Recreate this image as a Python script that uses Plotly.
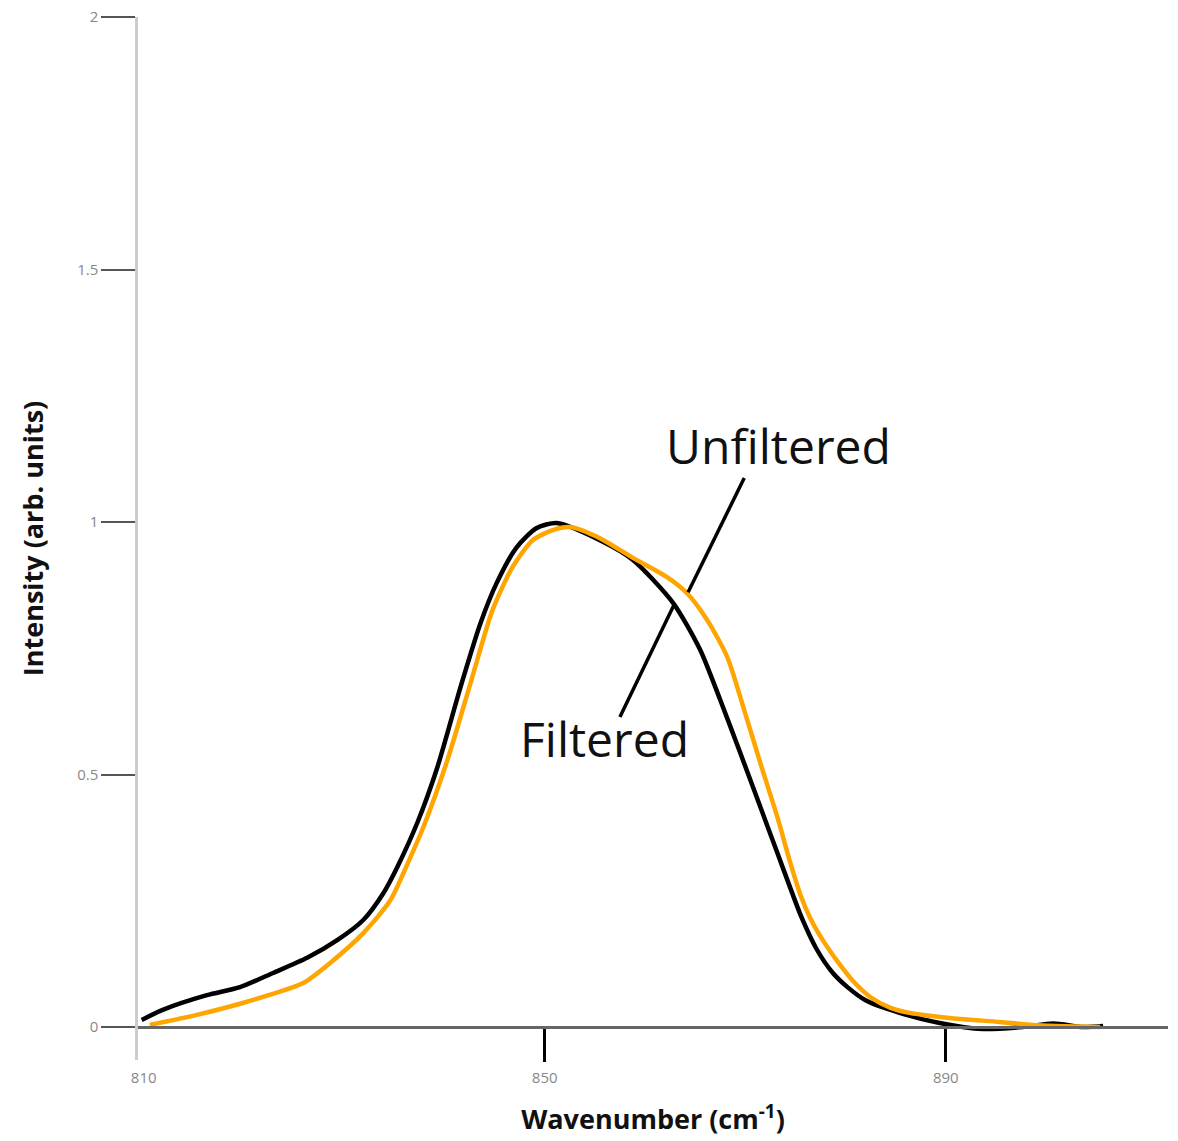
import plotly.graph_objects as go

# ---- data ----
filtered_x = [809.8, 811.9, 816.3, 819.6, 822.9, 826.3, 829.3, 831.9, 833.9, 835.3, 837.3,
              839.3, 841.6, 843.6, 845.2, 847.2, 849.2, 851.2, 855.5, 858.8, 862.8, 865.5,
              867.5, 869.5, 871.5, 873.2, 874.5, 875.6, 877.1, 878.7, 880.2, 882.0, 885.4,
              889.4, 893.7, 897.7, 900.7, 903.7, 905.7]
filtered_y = [0.014, 0.034, 0.063, 0.079, 0.107, 0.137, 0.172, 0.212, 0.265, 0.317, 0.405,
              0.515, 0.673, 0.800, 0.879, 0.950, 0.988, 0.998, 0.964, 0.925, 0.840, 0.747,
              0.648, 0.543, 0.436, 0.345, 0.275, 0.218, 0.155, 0.108, 0.079, 0.053, 0.028,
              0.008, -0.004, 0.0, 0.007, 0.0, 0.002]

unfiltered_x = [810.6, 815.3, 820.3, 825.9, 828.6, 831.9, 834.6, 836.4, 837.9, 840.3, 842.6,
                844.8, 846.8, 848.8, 850.8, 852.5, 855.5, 858.8, 862.2, 864.2, 866.2, 868.2,
                869.8, 871.5, 873.2, 874.5, 875.5, 876.5, 877.8, 879.2, 880.8, 882.5, 884.5,
                886.4, 890.4, 895.4, 898.7, 905.4]
unfiltered_y = [0.004, 0.024, 0.050, 0.087, 0.127, 0.186, 0.251, 0.327, 0.396, 0.529, 0.681,
                0.826, 0.911, 0.964, 0.984, 0.990, 0.968, 0.929, 0.891, 0.859, 0.806, 0.733,
                0.634, 0.523, 0.416, 0.325, 0.262, 0.215, 0.170, 0.130, 0.090, 0.059, 0.038,
                0.028, 0.018, 0.010, 0.004, 0.0]

x_tick_vals = [810, 850, 890]
x_tick_text = ["810", "850", "890"]
x_marked_ticks = [850, 890]
y_tick_vals = [0, 0.5, 1, 1.5, 2]
y_tick_text = ["0", "0.5", "1", "1.5", "2"]

# label text positions and leader lines (data coordinates)
labels = ["Unfiltered", "Filtered"]
label_x = [873.3, 856.0]
label_y = [1.152, 0.572]
leader_x0 = [869.9, 857.5]
leader_y0 = [1.087, 0.614]
leader_x1 = [864.3, 862.9]
leader_y1 = [0.861, 0.836]

x_range = [809.43, 912.17]
y_range = [-0.0653, 2.0]

fig = go.Figure()
fig.add_trace(go.Scatter(x=filtered_x, y=filtered_y, mode="lines", name="Filtered",
                         line=dict(color="black", width=4.5, shape="spline", smoothing=0.7)))
fig.add_trace(go.Scatter(x=unfiltered_x, y=unfiltered_y, mode="lines", name="Unfiltered",
                         line=dict(color="#FFA500", width=4.5, shape="spline", smoothing=0.7)))

for i in range(len(labels)):
    fig.add_shape(type="line", xref="x", yref="y",
                  x0=leader_x0[i], y0=leader_y0[i], x1=leader_x1[i], y1=leader_y1[i],
                  line=dict(color="black", width=3.5))
    fig.add_annotation(x=label_x[i], y=label_y[i], xref="x", yref="y", text=labels[i],
                       showarrow=False, font=dict(family="Open Sans", size=48, color="#111"))

xpos = (0 - y_range[0]) / (y_range[1] - y_range[0])

fig.update_layout(
    width=1170, height=1133,
    margin=dict(l=130, r=10, t=9, b=81),
    plot_bgcolor="white", paper_bgcolor="white",
    showlegend=False,
    font=dict(family="Open Sans"),
    xaxis=dict(
        range=x_range, anchor="free", position=xpos, automargin=False,
        showline=True, linecolor="#666666", linewidth=2.5,
        showgrid=False, zeroline=False,
        tickmode="array", tickvals=x_tick_vals, ticktext=x_tick_text,
        ticks="outside", ticklen=36, tickcolor="rgba(0,0,0,0)", tickwidth=1,
        ticklabeloverflow="allow",
        tickfont=dict(family="Open Sans", size=15, color="#888888"),
        minor=dict(tickmode="array", tickvals=x_marked_ticks, ticks="outside",
                   ticklen=33, tickwidth=3, tickcolor="black", showgrid=False),
        title=dict(text="<b>Wavenumber (cm<sup>-1</sup>)</b>", standoff=24,
                   font=dict(family="Open Sans", size=27, color="#111")),
    ),
    yaxis=dict(
        range=y_range, automargin=False,
        showline=True, linecolor="#cccccc", linewidth=2.5,
        showgrid=False, zeroline=False,
        tickmode="array", tickvals=y_tick_vals, ticktext=y_tick_text,
        ticks="outside", ticklen=34, tickcolor="#555555", tickwidth=1.5,
        ticklabeloverflow="allow",
        tickfont=dict(family="Open Sans", size=15, color="#888888"),
        title=dict(text="<b>Intensity (arb. units)</b>", standoff=26,
                   font=dict(family="Open Sans", size=27, color="#111")),
    ),
)

fig.write_html("out.html")
